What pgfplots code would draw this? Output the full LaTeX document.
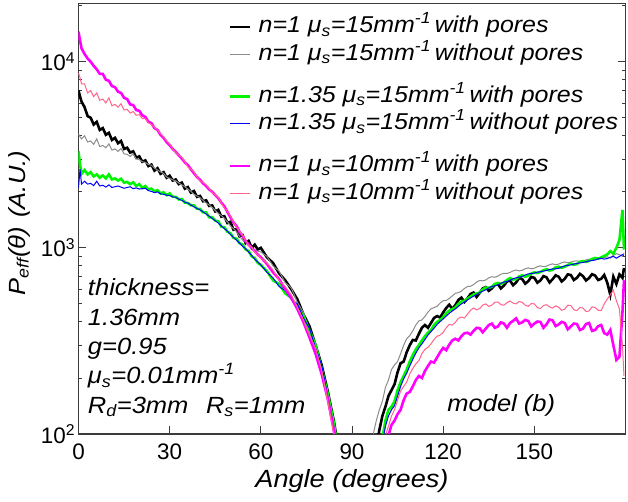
\documentclass[border=0pt]{standalone}
\usepackage{fontspec}
\setmainfont{Liberation Sans}
\newfontfamily\itw{Liberation Sans}[FakeStretch=1.09]
\usepackage{pgfplots}
\pgfplotsset{compat=1.18}
\usepackage{pgfplotstable}

\definecolor{cgray}{RGB}{140,140,140}
\definecolor{cgreen}{RGB}{0,245,0}
\definecolor{cblue}{RGB}{0,0,255}
\definecolor{cmag}{RGB}{255,0,255}
\definecolor{cpink}{RGB}{255,100,140}
\definecolor{cframe}{RGB}{60,60,60}

\newcommand{\ent}[3]{n=#1 μ\textsubscript{s}=#2mm\textsuperscript{-1}\,#3}

\pgfplotstableread{
x blk gry grn blu mag pnk
0 7000 4100 3300 2100 14500 8700
0.5 6500 3950 2800 2650 13000 8200
1 6100 3850 2500 2200 11800 7600
2 5700 4000 2620 2280 11000 7600
3 5100 3700 2480 2200 10400 6800
4 5000 3750 2550 2220 10000 7000
5 4600 3600 2420 2160 9500 6500
6 4750 3850 2480 2280 9100 6800
7 4300 3500 2380 2150 8600 6200
8 4400 3550 2450 2170 8600 6300
9 4050 3450 2360 2120 8000 6000
10 4150 3620 2480 2180 7900 6400
11 3800 3350 2330 2110 7400 5800
12 3900 3400 2360 2130 7300 5900
13 3650 3300 2300 2150 6900 5700
14 3750 3420 2350 2120 6800 5950
15 3400 3200 2240 2090 6400 5500
16 3450 3180 2260 2110 6300 5550
17 3250 3100 2200 2130 5900 5300
18 3300 3200 2250 2080 5850 5400
19 3050 3000 2150 2100 5500 5150
20 3100 2980 2200 2070 5450 5200
21 2900 2900 2100 2080 5150 4950
22 2950 2880 2150 2090 5050 4950
23 2750 2800 2060 2030 4750 4700
24 2800 2780 2080 2010 4680 4600
25 2600 2680 2010 1980 4400 4450
26 2680 2620 2040 2000 4300 4300
27 2500 2560 1960 1950 4050 4100
28 2550 2510 1990 1940 3900 3950
29 2380 2400 1920 1920 3700 3750
30 2440 2360 1960 1910 3560 3600
31 2300 2320 1880 1880 3400 3400
32 2330 2290 1880 1870 3280 3250
33 2200 2230 1820 1830 3140 3150
34 2240 2180 1830 1800 3020 3060
35 2080 2130 1750 1760 2880 2900
36 2120 2070 1740 1740 2780 2720
37 1980 2010 1690 1700 2640 2650
38 2020 1940 1690 1660 2520 2560
39 1880 1900 1620 1630 2400 2400
40 1900 1860 1620 1600 2320 2290
41 1780 1800 1550 1560 2220 2250
42 1800 1740 1550 1520 2150 2180
43 1680 1700 1460 1480 2060 2080
44 1690 1650 1460 1440 2000 1980
45 1570 1590 1400 1400 1920 1930
46 1600 1530 1390 1360 1850 1870
47 1470 1490 1300 1310 1750 1740
48 1480 1440 1290 1270 1670 1640
49 1360 1380 1220 1230 1560 1570
50 1380 1310 1200 1180 1460 1480
51 1250 1270 1130 1140 1370 1380
52 1260 1220 1120 1100 1310 1290
53 1150 1150 1060 1060 1220 1230
54 1170 1100 1040 1020 1160 1170
55 1060 1070 980 990 1090 1100
56 1090 1040 960 950 1040 1030
57 1000 1000 900 910 1000 1010
58 1040 975 880 870 960 950
59 980 960 830 840 920 920
60 1000 950 810 810 890 880
62 890 900 750 740 820 830
64 830 800 670 690 740 760
66 730 750 640 620 680 670
68 670 650 570 590 600 620
70 600 610 540 530 540 560
72 530 510 480 500 470 480
74 440 450 430 420 400 410
76 380 360 360 370 330 340
78 300 310 300 290 270 290
80 235 225 225 235 210 220
82 170 160 165 160 155 150
84 118 112 115 110 105 100
86 75 70 70 68 65 62
}\leftdata

\pgfplotstableread{
x blk gry grn blu mag pnk
96 50 60 40 40 40 40
97 60 100 45 45 45 45
98 85 118 60 55 50 50
99 105 135 75 70 60 62
100 125 150 95 90 75 80
101 140 178 118 110 88 98
102 160 195 135 125 98 110
103 172 222 140 135 112 125
104 185 235 150 142 118 135
105 215 245 172 160 128 152
106 240 270 190 180 135 170
107 245 300 205 198 152 180
108 275 325 222 212 165 190
109 300 338 245 232 168 210
110 320 358 265 252 180 225
111 318 385 285 272 195 238
112 345 405 300 290 205 248
113 372 410 318 305 200 270
114 385 428 335 322 218 285
115 372 452 350 340 232 292
116 395 470 362 355 245 305
117 420 478 385 370 242 322
118 430 485 400 388 258 335
119 422 505 410 402 275 340
120 450 520 425 415 290 352
121 475 522 445 430 282 372
122 495 535 460 445 302 388
123 470 552 468 458 318 385
124 492 570 478 470 325 398
125 525 575 500 485 318 418
126 540 585 515 500 335 425
127 512 605 520 512 348 420
128 535 620 532 525 350 440
129 565 622 548 538 342 462
130 575 635 562 550 358 475
131 545 655 568 562 372 465
132 572 668 575 575 370 472
133 605 665 598 585 352 492
134 615 672 612 595 368 500
135 588 690 610 608 385 485
136 605 700 618 620 392 492
137 632 695 640 625 372 510
138 640 705 648 632 378 512
139 605 722 640 645 398 495
140 628 730 652 655 392 492
141 660 728 672 660 372 508
142 668 738 688 670 395 518
143 630 752 675 682 405 505
144 652 760 680 690 418 500
145 690 752 702 695 392 515
146 680 758 712 702 398 510
147 642 772 700 715 410 492
148 662 780 708 725 405 485
149 698 772 728 728 378 502
150 690 778 738 732 392 500
151 650 792 732 740 402 478
152 668 800 742 745 400 472
153 705 792 758 750 372 490
154 695 798 768 756 388 495
155 652 812 755 765 412 482
156 678 820 762 770 408 475
157 712 812 785 772 380 488
158 700 818 792 776 388 480
159 660 832 782 790 400 462
160 682 840 792 800 395 468
161 720 832 808 805 365 492
162 715 838 822 810 378 490
163 672 848 812 818 392 465
164 690 852 818 825 390 460
165 725 842 842 830 362 478
166 705 848 848 835 368 475
167 668 862 840 842 390 455
168 688 870 852 850 395 458
169 722 862 872 855 358 482
170 710 868 882 860 362 478
171 672 882 875 872 380 462
172 682 890 888 880 385 460
173 715 885 905 870 348 500
174 650 896 922 876 342 530
175 560 880 960 890 362 560
176 700 912 930 900 300 592
177 640 930 1000 880 250 520
178 720 920 1100 900 260 470
179 690 900 1600 920 450 300
179.5 780 940 980 910 670 205
}\rightdata

\begin{document}
\begin{tikzpicture}
\begin{axis}[name=ax, scale only axis, width=547bp, height=430.5bp,
  ymode=log, xmin=0, xmax=180, ymin=100, ymax=20550,
  xtick={0,30,60,90,120,150}, xticklabels={0,30,60,90,120,150},
  ytick={100,1000,10000},
  yticklabels={10\textsuperscript{2},10\textsuperscript{3},10\textsuperscript{4}},
  minor ytick={200,300,400,500,600,700,800,900,2000,3000,4000,5000,6000,7000,8000,9000,20000},
  xtick pos=lower, ytick pos=both, tick align=inside,
  major tick length=8bp, minor tick length=4bp,
  tick style={cframe, line width=0.9bp},
  axis line style={cframe, line width=1.5bp},
  ticklabel style={font=\fontsize{22.5}{24}\selectfont},
  xticklabel style={yshift=-6bp},
  xlabel={\itw\itshape Angle (degrees)},
  ylabel={\itw\itshape P\textsubscript{eff}(θ)\hspace{0.4em}(A.U.)},
  xlabel style={at={(axis description cs:0.5,-0.1254)}, anchor=base, font=\fontsize{25}{27}\selectfont},
  ylabel style={at={(axis description cs:-0.0978,0.49)}, anchor=base, font=\fontsize{23.5}{25}\selectfont},
  legend style={at={(rel axis cs:0.275,0.9745)}, anchor=north west, draw=none, fill=none,
    font=\fontsize{23}{25}\selectfont\itw\itshape, row sep=3bp, column sep=6bp, inner sep=0pt,
    nodes={inner sep=1bp, text height=17bp, text depth=5.5bp}},
  legend cell align=left,
  legend image code/.code={\draw[#1] (0bp,0bp) -- (20bp,0bp);},
]
\addplot[black, line width=2.6bp, forget plot] table[x=x,y=blk] {\leftdata};
\addplot[black, line width=2.6bp, forget plot] table[x=x,y=blk] {\rightdata};
\addplot[cgray, line width=1bp, forget plot] table[x=x,y=gry] {\leftdata};
\addplot[cgray, line width=1bp, forget plot] table[x=x,y=gry] {\rightdata};
\addplot[cgreen, line width=2.6bp, forget plot] table[x=x,y=grn] {\leftdata};
\addplot[cgreen, line width=2.6bp, forget plot] table[x=x,y=grn] {\rightdata};
\addplot[cblue, line width=1bp, forget plot] table[x=x,y=blu] {\leftdata};
\addplot[cblue, line width=1bp, forget plot] table[x=x,y=blu] {\rightdata};
\addplot[cmag, line width=2.6bp, forget plot] table[x=x,y=mag] {\leftdata};
\addplot[cmag, line width=2.6bp, forget plot] table[x=x,y=mag] {\rightdata};
\addplot[cpink, line width=1bp, forget plot] table[x=x,y=pnk] {\leftdata};
\addplot[cpink, line width=1bp, forget plot] table[x=x,y=pnk] {\rightdata};

\addlegendimage{black, line width=2.6bp}
\addlegendentry{\ent{1}{15}{with pores}}
\addlegendimage{cgray, line width=1bp}
\addlegendentry{\ent{1}{15}{without pores}}
\addlegendimage{empty legend}
\addlegendentry[text height=9.5bp, text depth=0bp]{}
\addlegendimage{cgreen, line width=2.6bp}
\addlegendentry{\ent{1.35}{15}{with pores}}
\addlegendimage{cblue, line width=1bp}
\addlegendentry{\ent{1.35}{15}{without pores}}
\addlegendimage{empty legend}
\addlegendentry[text height=9.5bp, text depth=0bp]{}
\addlegendimage{cmag, line width=2.6bp}
\addlegendentry{\ent{1}{10}{with pores}}
\addlegendimage{cpink, line width=1bp}
\addlegendentry{\ent{1}{10}{without pores}}

\tikzset{annot/.style={anchor=base west, inner sep=0pt, font=\fontsize{23.5}{25}\selectfont\itw\itshape}}
\node[annot] at (rel axis cs:0.017,0.3206) {thickness=};
\node[annot] at (rel axis cs:0.017,0.2525) {1.36mm};
\node[annot] at (rel axis cs:0.017,0.1844) {g=0.95};
\node[annot] at (rel axis cs:0.017,0.1164) {μ\textsubscript{s}=0.01mm\textsuperscript{-1}};
\node[annot] at (rel axis cs:0.017,0.0483) {R\textsubscript{d}=3mm\hspace{0.75em}R\textsubscript{s}=1mm};
\node[annot] at (rel axis cs:0.674,0.052) {model (b)};
\end{axis}
\pgfresetboundingbox
\path[use as bounding box] ([shift={(-78.5bp,-68bp)}]ax.south west) rectangle ([shift={(2.5bp,3.5bp)}]ax.north east);
\end{tikzpicture}
\end{document}
